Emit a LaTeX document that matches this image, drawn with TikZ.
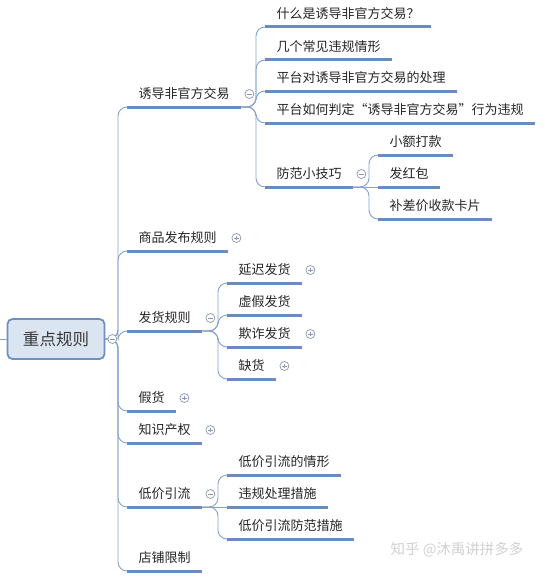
\documentclass[tikz,border=0pt]{standalone}
\usepackage{fontspec}
\newfontfamily\cjk{Noto Sans CJK SC}
\usetikzlibrary{calc}
\definecolor{ulc}{HTML}{6A8CC0}
\definecolor{linec}{HTML}{86A3CE}
\definecolor{btnc}{HTML}{8A98B4}
\definecolor{rootfill}{HTML}{DBE5F2}
\definecolor{rootdraw}{HTML}{6E90C2}
\definecolor{txt}{HTML}{262626}
\tikzset{
  topic/.style={anchor=south west, inner xsep=11.5pt, inner ysep=5pt, text height=10pt, text depth=3pt,
    font=\cjk\fontsize{13}{15}\selectfont, text=txt},
  uline/.style={draw=ulc, line width=3pt},
  conn/.style={draw=linec, line width=0.9pt, rounded corners=9pt,
    to path={-- ($(\tikztotarget |- \tikztostart)+(-9,0)$) -- ($(\tikztotarget)+(-9,0)$) -- (\tikztotarget)}},
  connflat/.style={draw=linec, line width=0.9pt},
  btn/.style={circle, draw=btnc, line width=0.7pt, fill=white, minimum size=9pt, inner sep=0pt},
  collapsebtn/.style={btn, path picture={\draw[btnc, line width=0.7pt] ([xshift=-2.3pt]path picture bounding box.center) -- ([xshift=2.3pt]path picture bounding box.center);}},
  expandbtn/.style={btn, path picture={\draw[btnc, line width=0.7pt] ([xshift=-2.3pt]path picture bounding box.center) -- ([xshift=2.3pt]path picture bounding box.center) ([yshift=-2.3pt]path picture bounding box.center) -- ([yshift=2.3pt]path picture bounding box.center);}},
  rootbox/.style={draw=rootdraw, line width=1.8pt, fill=rootfill, rounded corners=5pt, minimum width=97pt, minimum height=40pt,
    font=\cjk\fontsize{16.5}{18}\selectfont, text=black!78}
}
\begin{document}
\begin{tikzpicture}[x=1pt, y=-1pt]
\fill[white] (0,0) rectangle (544,578);
\useasboundingbox (0,0) rectangle (544,578);
% root
\node[rootbox] (root) at (56,339) {重点规则};
\coordinate (lft) at (0,339);
% level 1
\node[topic] (t1) at (127,107) {诱导非官方交易};
\node[topic] (t2) at (127,251) {商品发布规则};
\node[topic] (t3) at (127,331) {发货规则};
\node[topic] (t4) at (127,411) {假货};
\node[topic] (t5) at (127,443) {知识产权};
\node[topic] (t6) at (127,507) {低价引流};
\node[topic] (t7) at (127,571) {店铺限制};
% level 2 under t1
\node[topic] (a1) at (265,27) {什么是诱导非官方交易？};
\node[topic] (a2) at (265,60) {几个常见违规情形};
\node[topic] (a3) at (265,91) {平台对诱导非官方交易的处理};
\node[topic] (a4) at (265,123) {平台如何判定“诱导非官方交易”行为违规};
\node[topic] (a5) at (265,187) {防范小技巧};
% level 3 under a5
\node[topic] (b1) at (378,155) {小额打款};
\node[topic] (b2) at (378,187) {发红包};
\node[topic] (b3) at (378,219) {补差价收款卡片};
% under t3
\node[topic] (c1) at (227,283) {延迟发货};
\node[topic] (c2) at (227,315) {虚假发货};
\node[topic] (c3) at (227,347) {欺诈发货};
\node[topic] (c4) at (227,379) {缺货};
% under t6
\node[topic] (d1) at (227,475) {低价引流的情形};
\node[topic] (d2) at (227,507) {违规处理措施};
\node[topic] (d3) at (227,539) {低价引流防范措施};
% underlines
\foreach \n in {t1,t2,t3,t4,t5,t6,t7,a1,a2,a3,a4,a5,b1,b2,b3,c1,c2,c3,c4,d1,d2,d3}
  \draw[uline] (\n.south west) -- (\n.south east);
% connectors
\draw[connflat] (lft) -- (root.west);
\foreach \c in {t1,t2,t3,t4,t5,t6,t7}
  \draw[conn] (root.east) to (\c.south west);
\foreach \c in {a1,a2,a3,a4,a5}
  \draw[conn] (t1.south east) to (\c.south west);
\foreach \c in {b1,b3}
  \draw[conn] (a5.south east) to (\c.south west);
\draw[connflat] (a5.south east) -- (b2.south west);
\foreach \c in {c1,c2,c3,c4}
  \draw[conn] (t3.south east) to (\c.south west);
\foreach \c in {d1,d3}
  \draw[conn] (t6.south east) to (\c.south west);
\draw[connflat] (t6.south east) -- (d2.south west);
% buttons
\node[collapsebtn] (rb) at ([xshift=7pt]root.east) {};
\node[collapsebtn] (bt1) at ([shift={(8,-13)}]t1.south east) {};
\node[expandbtn] (bt2) at ([shift={(8,-13)}]t2.south east) {};
\node[collapsebtn] (bt3) at ([shift={(8,-13)}]t3.south east) {};
\node[expandbtn] (bt4) at ([shift={(8,-13)}]t4.south east) {};
\node[expandbtn] (bt5) at ([shift={(8,-13)}]t5.south east) {};
\node[collapsebtn] (bt6) at ([shift={(8,-13)}]t6.south east) {};
\node[collapsebtn] (ba5) at ([shift={(8,-13)}]a5.south east) {};
\node[expandbtn] (bc1) at ([shift={(8,-13)}]c1.south east) {};
\node[expandbtn] (bc3) at ([shift={(8,-13)}]c3.south east) {};
\node[expandbtn] (bc4) at ([shift={(8,-13)}]c4.south east) {};
% watermark
\node[font=\cjk\fontsize{14.5}{16}\selectfont, text=black!18] (wm) at (457,550) {知乎 @沐禹讲拼多多};
\end{tikzpicture}
\end{document}
